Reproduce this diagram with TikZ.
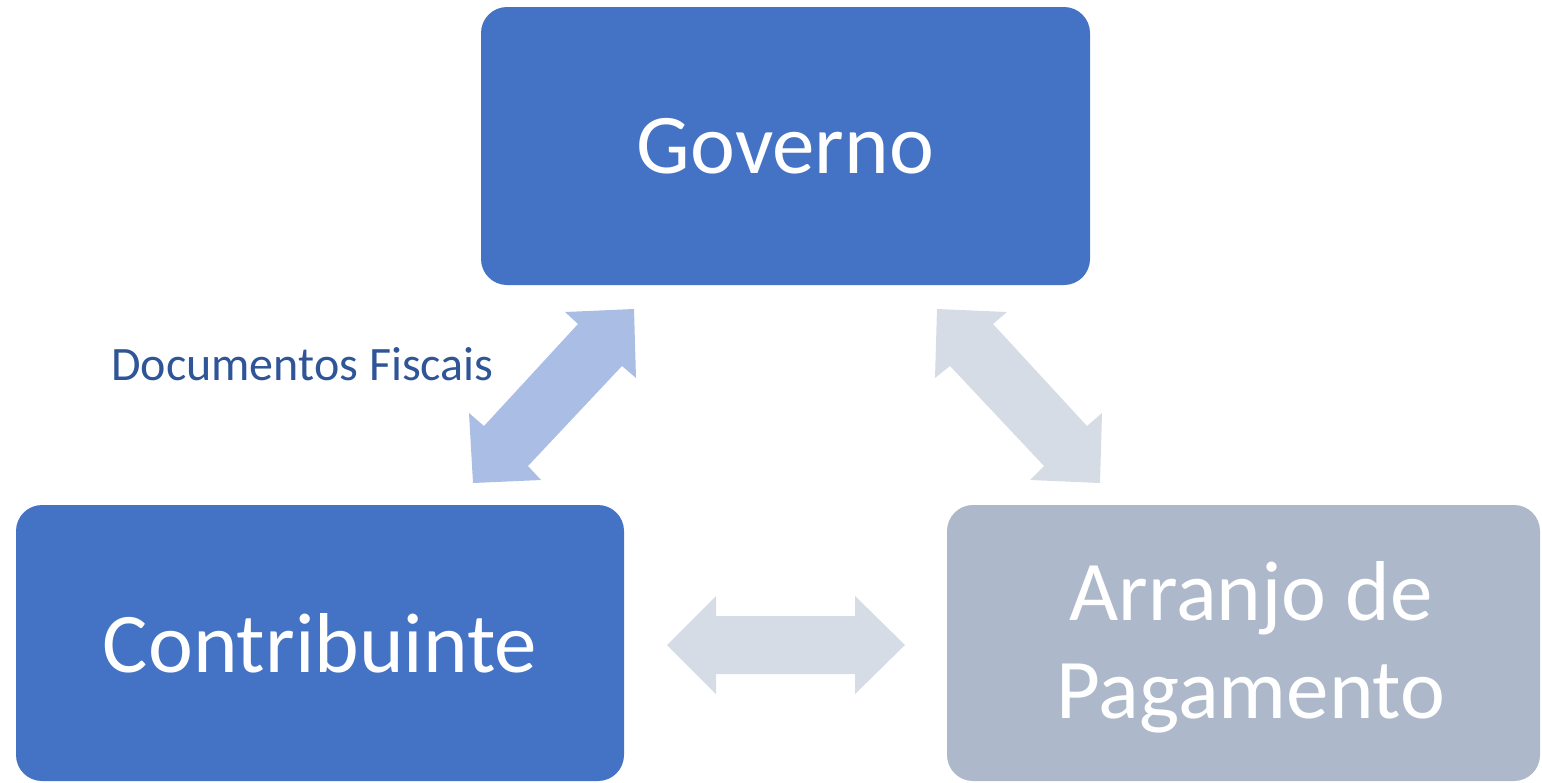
\documentclass[tikz,border=0pt]{standalone}
\usepackage{fontspec}
\setmainfont{Carlito}
\definecolor{boxblue}{HTML}{4472C4}
\definecolor{boxgrey}{HTML}{ADB9CA}
\definecolor{arrowblue}{HTML}{A9BDE5}
\definecolor{arrowgrey}{HTML}{D6DCE5}
\definecolor{labelblue}{HTML}{2F5597}
\begin{document}
\begin{tikzpicture}[x=1pt,y=-1pt,
  box/.style={rounded corners=26pt, inner sep=0pt, text=white, align=center,
    font=\fontsize{85}{98}\selectfont},
  blockarrow/.style={draw=none}]
\useasboundingbox (0,0) rectangle (1542,782);
\node[box, fill=boxblue, minimum width=609pt, minimum height=278pt] (gov) at (785.5,146) {Governo};
\node[box, fill=boxblue, minimum width=608pt, minimum height=276pt] (contrib) at (320,643) {Contribuinte};
\node[box, fill=boxgrey, minimum width=593pt, minimum height=276pt] (arranjo) at (1243.5,643) {};
\node[text=white, align=center, font=\fontsize{85}{98}\selectfont, inner sep=0pt, anchor=base] (arrtxt) at (1251,718) {Arranjo de\\Pagamento};
% left diagonal double arrow
\fill[arrowblue] (634,309) -- (636,378) -- (622,366) -- (528,466) -- (541,480) -- (473,483)
  -- (469,413) -- (484,426) -- (578,324) -- (565,312) -- cycle;
% right diagonal double arrow
\fill[arrowgrey] (937,309) -- (1007,312) -- (993,324) -- (1087,426) -- (1102,413) -- (1100,483)
  -- (1030,480) -- (1044,466) -- (950,366) -- (935,378) -- cycle;
% horizontal double arrow
\fill[arrowgrey] (667,645) -- (716,596) -- (716,616) -- (855,616) -- (855,596) -- (905,645)
  -- (855,694) -- (855,674) -- (716,674) -- (716,694) -- cycle;
\node[text=labelblue, font=\fontsize{48}{56}\selectfont, inner sep=0pt, anchor=base west] (doclabel) at (111,380) {Documentos Fiscais};
\end{tikzpicture}
\end{document}
